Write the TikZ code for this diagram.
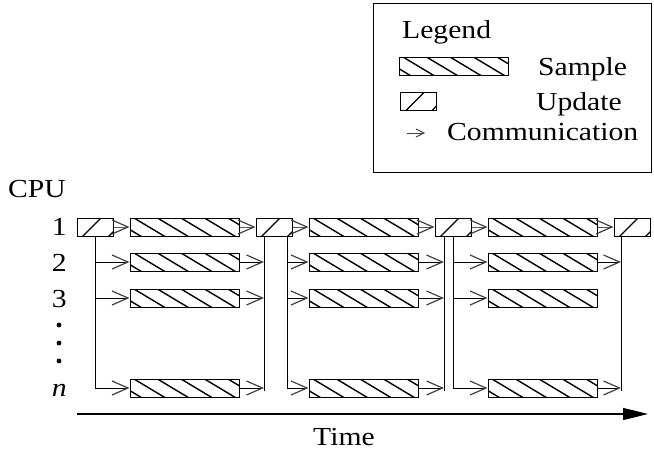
\documentclass[tikz,border=0pt]{standalone}
\usepackage{fontspec}
\setmainfont[FakeStretch=1.14]{Liberation Serif}
\usetikzlibrary{arrows.meta}

\tikzset{
  lbl/.style={inner sep=0pt, font=\fontsize{26pt}{30pt}\selectfont},
  hatchline/.style={line width=1.4pt, black},
  samplebox/.style={draw, line width=1pt, inner sep=0pt,
    minimum width=109pt, minimum height=18pt,
    path picture={
      \foreach \k in {-2,...,5}{
        \draw[hatchline] ([xshift=\k*23.5pt+4pt]path picture bounding box.north west)
          ++(-5,-3) -- ++(40,24);
      }
    }},
  updatebox/.style={draw, line width=1pt, inner sep=0pt,
    minimum width=36pt, minimum height=18pt,
    path picture={
      \foreach \k in {-1,0,1}{
        \draw[hatchline] ([xshift=\k*26pt+6pt]path picture bounding box.south west)
          ++(-3,3) -- ++(24,-24);
      }
    }},
  wire/.style={line width=0.9pt, black},
  commtip/.tip={Straight Barb[length=16pt,width=14pt,line width=1.2pt,color=black!75]},
  comm/.style={line width=0.8pt, black, -commtip},
  commtop/.style={comm, black!65},
}

\begin{document}
\begin{tikzpicture}[x=1pt, y=-1pt]
\useasboundingbox (0,0) rectangle (654,455);

% ---- legend ----
\node[draw, line width=0.9pt, inner sep=0pt, minimum width=278pt,
      minimum height=169pt, anchor=north west] (legend) at (373,3) {};
\node[lbl, anchor=base west] (legtitle) at (402,38) {Legend};
\node[samplebox] (legsample) at (453.5,66) {};
\node[lbl, anchor=base west] (legsampletxt) at (538,75) {Sample};
\node[updatebox] (legupdate) at (418,101.5) {};
\node[lbl, anchor=base west] (legupdatetxt) at (536,110) {Update};
\coordinate (la0) at (407,133);
\coordinate (la1) at (425,133);
\draw[line width=0.7pt, black!75, -{Straight Barb[length=8pt,width=8pt,line width=1pt]}] (la0) -- (la1);
\node[lbl, anchor=base west] (legcommtxt) at (447,140) {Communication};

% ---- CPU labels ----
\node[lbl, anchor=base east] (cpu) at (66,197) {CPU};
\node[lbl, anchor=base east] (l1) at (67,235) {1};
\node[lbl, anchor=base east] (l2) at (67,271) {2};
\node[lbl, anchor=base east] (l3) at (67,307) {3};
\node[lbl, anchor=base east] (ln) at (67,396) {\textit{n}};
\foreach \yy in {325,343,361}{
  \fill (59,\yy) circle (2.4pt);
}

% ---- update steps (CPU 1) ----
\node[updatebox] (u1) at (95,227) {};
\node[updatebox] (u2) at (274,227) {};
\node[updatebox] (u3) at (453,227) {};
\node[updatebox] (u4) at (632,227) {};

% ---- sampling steps ----
\foreach \c/\xx in {1/184.5, 2/363.5, 3/542.5}{
  \node[samplebox] (s\c r1) at (\xx,227) {};
  \node[samplebox] (s\c r2) at (\xx,262) {};
  \node[samplebox] (s\c r3) at (\xx,298) {};
  \node[samplebox] (s\c rn) at (\xx,388) {};
}

% ---- collection lines (into the next update) ----
\coordinate (in2) at (264,391);
\coordinate (in3) at (444,391);
\coordinate (in4) at (621,391);
\draw[wire] (in2) -- (in2 |- u2.south);
\draw[wire] (in3) -- (in3 |- u3.south);
\draw[wire] (in4) -- (in4 |- u4.south);

% ---- distribution lines (out of each update) ----
\coordinate (out1) at (95,236);
\coordinate (out2) at (287,236);
\coordinate (out3) at (453,236);
\foreach \c/\o in {1/out1, 2/out2, 3/out3}{
  \draw[comm] (\o) |- (s\c rn.west);
  \draw[comm] (\o |- s\c r2.west) -- (s\c r2.west);
  \draw[comm] (\o |- s\c r3.west) -- (s\c r3.west);
}

% ---- CPU 1 chain ----
\draw[commtop] (u1.east) -- (s1r1.west);
\draw[commtop] (s1r1.east) -- (u2.west);
\draw[commtop] (u2.east) -- (s2r1.west);
\draw[commtop] (s2r1.east) -- (u3.west);
\draw[commtop] (u3.east) -- (s3r1.west);
\draw[commtop] (s3r1.east) -- (u4.west);

% ---- results sent back ----
\draw[comm] (s1r2.east) -- (in2 |- s1r2.east);
\draw[comm] (s1r3.east) -- (in2 |- s1r3.east);
\draw[comm] (s1rn.east) -- (in2 |- s1rn.east);
\draw[comm] (s2r2.east) -- (in3 |- s2r2.east);
\draw[comm] (s2r3.east) -- (in3 |- s2r3.east);
\draw[comm] (s2rn.east) -- (in3 |- s2rn.east);
\draw[comm] (s3r2.east) -- (in4 |- s3r2.east);
\draw[comm] (s3rn.east) -- (in4 |- s3rn.east);

% ---- time axis ----
\coordinate (t0) at (77,414);
\coordinate (t1) at (648,414);
\draw[line width=1.2pt, -{Triangle[length=25pt,width=12pt]}] (t0) -- (t1);
\node[lbl] (time) at (344,437) {Time};
\end{tikzpicture}
\end{document}
